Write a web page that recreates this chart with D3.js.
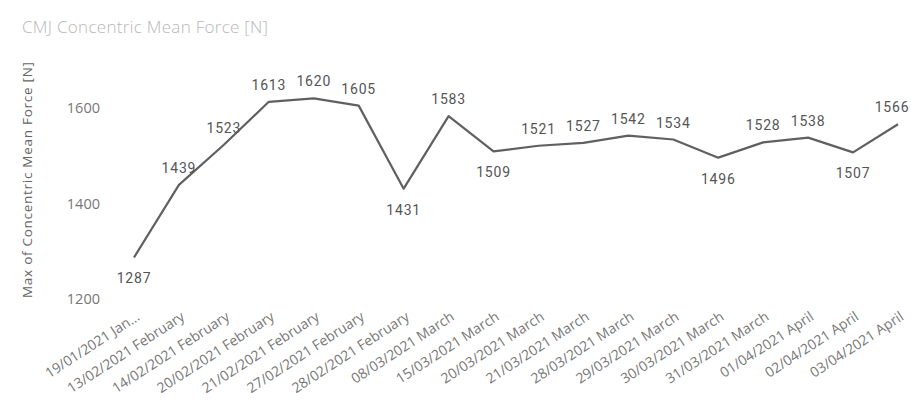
<!doctype html>
<html>
  <head>
    <meta charset="utf-8">
    <style>
      body { margin: 0; background: #fff; }
      .axis path, .axis line { display: none; }
    </style>
  </head>
  <body>
    <svg width="911" height="413"></svg>
    <script src="https://d3js.org/d3.v7.min.js"></script>
    <script>
      var dates = ["19/01/2021 Jan...", "13/02/2021 February", "14/02/2021 February", "20/02/2021 February",
        "21/02/2021 February", "27/02/2021 February", "28/02/2021 February", "08/03/2021 March",
        "15/03/2021 March", "20/03/2021 March", "21/03/2021 March", "28/03/2021 March",
        "29/03/2021 March", "30/03/2021 March", "31/03/2021 March", "01/04/2021 April",
        "02/04/2021 April", "03/04/2021 April"];
      var force = [1287, 1439, 1523, 1613, 1620, 1605, 1431, 1583, 1509, 1521, 1527, 1542, 1534, 1496, 1528, 1538, 1507, 1566];
      var yTicks = [1200, 1400, 1600];

      var svg = d3.select("svg");

      var x = d3.scalePoint().domain(dates).range([134, 898]);
      var y = d3.scaleLinear().domain([1200, 1600]).range([299, 108]);

      // title
      svg.append("text")
          .attr("x", 22)
          .attr("y", 33)
          .attr("textLength", 246)
          .style("font", "300 17px 'Open Sans', sans-serif")
          .attr("fill", "#b8b8b8")
          .text("CMJ Concentric Mean Force [N]");

      // y axis
      var gy = svg.append("g")
          .attr("class", "axis")
          .attr("transform", "translate(106,0)")
          .call(d3.axisLeft(y).tickValues(yTicks).tickSize(0).tickPadding(6).tickFormat(d3.format("d")));
      gy.selectAll("text")
          .style("font", "14.5px 'Open Sans', sans-serif")
          .attr("fill", "#777");

      svg.append("text")
          .attr("transform", "translate(32,180) rotate(-90)")
          .attr("text-anchor", "middle")
          .attr("textLength", 236)
          .style("font", "13.5px 'Open Sans', sans-serif")
          .attr("fill", "#666")
          .text("Max of Concentric Mean Force [N]");

      // x axis labels
      svg.append("g").selectAll("text")
        .data(dates)
        .join("text")
          .attr("transform", function(d) { return "translate(" + (x(d) + 4) + ",315) rotate(-33)"; })
          .attr("text-anchor", "end")
          .attr("dy", "0.35em")
          .style("font", "14px 'Open Sans', sans-serif")
          .attr("fill", "#777")
          .text(function(d) { return d; });

      // line
      var line = d3.line()
          .x(function(d, i) { return x(dates[i]); })
          .y(function(d) { return y(d); });

      svg.append("path")
          .datum(force)
          .attr("fill", "none")
          .attr("stroke", "#606060")
          .attr("stroke-width", 2.2)
          .attr("stroke-linejoin", "round")
          .attr("d", line);

      // data labels: below on local dips, above elsewhere
      function below(i) {
        var prev = i > 0 ? force[i - 1] : Infinity;
        var next = i < force.length - 1 ? force[i + 1] : Infinity;
        return force[i] < prev && force[i] < next;
      }
      svg.append("g").selectAll("text")
        .data(force)
        .join("text")
          .attr("x", function(d, i) { return Math.min(x(dates[i]), 892); })
          .attr("y", function(d, i) { return y(d) + (below(i) ? 26 : -12); })
          .attr("text-anchor", "middle")
          .style("font", "14px Roboto, sans-serif")
          .style("letter-spacing", "0.8px")
          .attr("fill", "#555")
          .text(function(d) { return d; });
    </script>
  </body>
</html>
